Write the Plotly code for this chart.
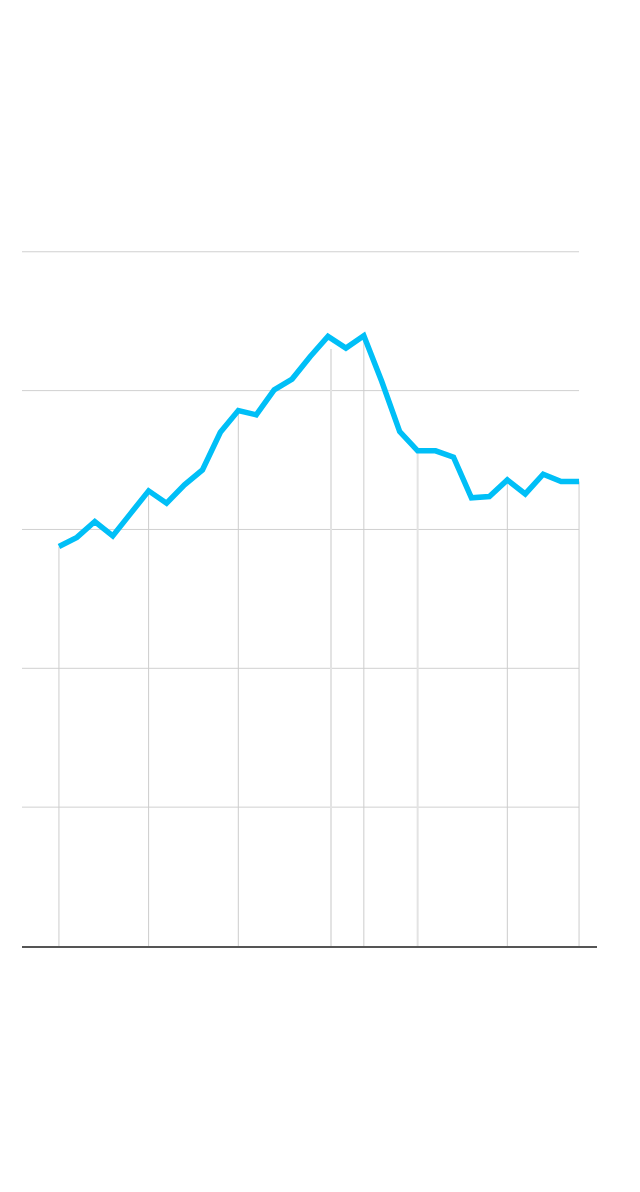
import plotly.graph_objects as go

# Data
years = list(range(1990, 2020))
values = [2.877, 2.943, 3.057, 2.954, 3.116, 3.278, 3.189, 3.321, 3.429, 3.700,
          3.857, 3.826, 4.006, 4.083, 4.244, 4.390, 4.306, 4.395, 4.066, 3.705,
          3.566, 3.566, 3.521, 3.228, 3.237, 3.357, 3.256, 3.398, 3.345, 3.345]

# Vertical reference (drop) lines
marker_x = [1990, 1995, 2000, 2007, 2015, 2019]
marker_top = [2.877, 3.278, 3.857, 4.395, 3.357, 3.345]
light_marker_x = [2005.17, 2010]
light_marker_top = [4.30, 3.566]

grid_levels = [1, 2, 3, 4, 5]

fig = go.Figure()

def seg(xs, tops):
    X, Y = [], []
    for x, t in zip(xs, tops):
        X += [x, x, None]
        Y += [0, t, None]
    return X, Y

lx, ly = seg(light_marker_x, light_marker_top)
fig.add_trace(go.Scatter(x=lx, y=ly, mode="lines",
                         line=dict(color="#e3e3e3", width=2),
                         hoverinfo="skip", showlegend=False))
mx, my = seg(marker_x, marker_top)
fig.add_trace(go.Scatter(x=mx, y=my, mode="lines",
                         line=dict(color="#cccccc", width=1),
                         hoverinfo="skip", showlegend=False))

fig.add_trace(go.Scatter(x=years, y=values, mode="lines",
                         line=dict(color="#00bff7", width=5.5),
                         showlegend=False))

x_left = 1987.94
for g in grid_levels:
    fig.add_shape(type="line", xref="x", yref="y", x0=x_left, x1=2019,
                  y0=g, y1=g, line=dict(color="#d0d0d0", width=1), layer="below")

fig.update_layout(
    width=640, height=1192,
    margin=dict(l=14, r=51, t=216, b=254),
    paper_bgcolor="white", plot_bgcolor="white",
    xaxis=dict(range=[x_left, 2020.0], showgrid=False, zeroline=False,
               showticklabels=False, ticks="", showline=True,
               linecolor="#555555", linewidth=2, fixedrange=True),
    yaxis=dict(range=[0, 5.2], showgrid=False, zeroline=False,
               showticklabels=False, ticks="", showline=False, fixedrange=True),
)

fig.write_html("out.html")
